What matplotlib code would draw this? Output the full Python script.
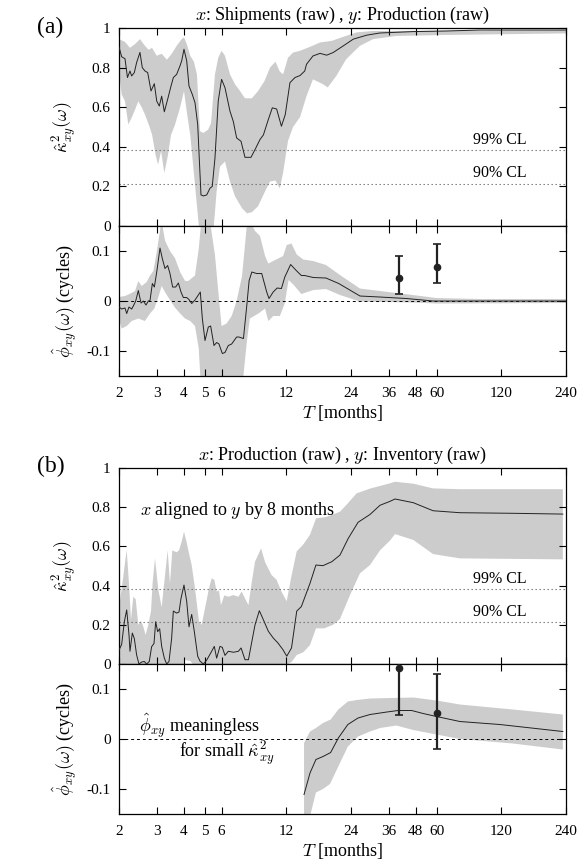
import numpy as np
import matplotlib.pyplot as plt

plt.rcParams['font.family'] = ['Liberation Serif', 'DejaVu Serif']
plt.rcParams['mathtext.fontset'] = 'cm'

# period T [months], value
# (a) x: Shipments, y: Production
coh_a_mid = [(2.000, 0.905), (2.058, 0.855), (2.133, 0.845), (2.19, 0.75), (2.25, 0.783), (2.29, 0.758),
             (2.357, 0.775), (2.416, 0.826), (2.504, 0.877), (2.567, 0.80), (2.642, 0.783), (2.72, 0.775),
             (2.818, 0.682), (2.92, 0.719), (2.996, 0.631), (3.08, 0.606), (3.159, 0.656), (3.25, 0.577),
             (3.368, 0.640), (3.491, 0.707), (3.58, 0.750), (3.709, 0.766), (3.844, 0.809), (3.914, 0.834),
             (4.012, 0.893), (4.130, 0.834), (4.233, 0.707), (4.385, 0.665), (4.514, 0.623), (4.646, 0.513),
             (4.813, 0.157), (4.937, 0.152), (5.118, 0.157), (5.300, 0.191), (5.43, 0.20), (5.591, 0.344),
             (5.79, 0.631), (6.0, 0.741), (6.222, 0.699), (6.565, 0.580), (6.80, 0.529), (7.05, 0.445),
             (7.39, 0.428), (7.71, 0.347), (8.22, 0.347), (8.585, 0.386), (9.056, 0.437), (9.39, 0.46),
             (9.90, 0.538), (10.33, 0.597), (10.82, 0.591), (11.39, 0.504), (11.87, 0.563), (12.48, 0.724),
             (13.17, 0.75), (13.90, 0.76), (14.62, 0.783), (14.9, 0.817), (15.97, 0.859), (17.22, 0.872),
             (18.5, 0.863), (19.8, 0.876), (22.1, 0.910), (24.6, 0.944), (28.4, 0.964), (32.7, 0.975),
             (46.6, 0.982), (66.5, 0.985), (95.6, 0.99), (240, 0.99)]
coh_a_hi = [(2.000, 0.944), (2.133, 0.93), (2.25, 0.90), (2.38, 0.92), (2.504, 0.944), (2.642, 0.91),
            (2.75, 0.89), (2.85, 0.90), (2.996, 0.86), (3.159, 0.87), (3.34, 0.84), (3.52, 0.87),
            (3.709, 0.91), (3.914, 0.944), (4.012, 0.953), (4.130, 0.92), (4.29, 0.86), (4.46, 0.83),
            (4.61, 0.766), (4.76, 0.479), (4.937, 0.47), (5.20, 0.487), (5.36, 0.52), (5.591, 0.766),
            (5.79, 0.85), (6.0, 0.885), (6.222, 0.86), (6.565, 0.766), (6.93, 0.716), (7.31, 0.682),
            (7.71, 0.645), (8.30, 0.645), (8.87, 0.682), (9.51, 0.733), (10.08, 0.80), (10.68, 0.83),
            (11.2, 0.78), (11.6, 0.766), (12.22, 0.85), (12.9, 0.876), (13.9, 0.885), (15.47, 0.905),
            (17.22, 0.927), (19.5, 0.935), (22.0, 0.955), (25.5, 0.978), (30.4, 0.985), (240, 0.99)]
coh_a_lo = [(2.000, 0.78), (2.058, 0.665), (2.133, 0.63), (2.21, 0.513), (2.29, 0.547), (2.38, 0.59),
            (2.46, 0.63), (2.55, 0.60), (2.642, 0.563), (2.75, 0.513), (2.85, 0.462), (2.96, 0.36),
            (3.04, 0.31), (3.14, 0.38), (3.25, 0.267), (3.368, 0.35), (3.491, 0.46), (3.64, 0.51),
            (3.844, 0.597), (4.012, 0.682), (4.130, 0.58), (4.29, 0.46), (4.514, 0.208), (4.70, 0.005),
            (4.88, -0.05), (5.20, -0.05), (5.5, -0.02), (5.591, 0.073), (5.69, 0.174), (5.9, 0.30),
            (6.222, 0.326), (6.565, 0.225), (6.93, 0.15), (7.47, 0.09), (7.88, 0.064), (8.30, 0.07),
            (8.87, 0.10), (9.51, 0.17), (10.08, 0.225), (10.68, 0.23), (11.2, 0.19), (11.6, 0.27),
            (12.22, 0.43), (12.9, 0.50), (13.9, 0.55), (14.9, 0.656), (15.97, 0.741), (17.8, 0.716),
            (18.7, 0.70), (20.5, 0.758), (22.8, 0.843), (26.4, 0.91), (30.4, 0.944), (39.0, 0.96),
            (66.5, 0.965), (240, 0.973)]

ph_a_mid = [(2.000, -0.012), (2.058, -0.016), (2.133, -0.014), (2.172, -0.025), (2.226, -0.012),
            (2.291, -0.016), (2.332, -0.010), (2.392, 0.0), (2.460, 0.021), (2.532, -0.004), (2.596, 0.0),
            (2.671, -0.008), (2.738, 0.0), (2.788, 0.001), (2.859, 0.035), (2.921, 0.028), (2.996, 0.058),
            (3.103, 0.106), (3.181, 0.085), (3.273, 0.065), (3.368, 0.071), (3.453, 0.055), (3.553, 0.028),
            (3.670, 0.028), (3.777, 0.036), (3.886, 0.018), (3.984, 0.007), (4.130, 0.007), (4.233, 0.003),
            (4.357, -0.005), (4.514, 0.002), (4.779, 0.018), (4.883, -0.035), (5.024, -0.079),
            (5.206, -0.052), (5.338, -0.050), (5.532, -0.089), (5.692, -0.083), (5.836, -0.086),
            (6.048, -0.105), (6.222, -0.103), (6.449, -0.089), (6.684, -0.086), (7.050, -0.072),
            (7.228, -0.072), (7.584, -0.075), (7.861, -0.009), (8.061, 0.041), (8.297, 0.058),
            (8.740, 0.055), (9.223, 0.055), (9.73, 0.018), (9.97, 0.005), (10.43, 0.018), (10.88, 0.026),
            (11.39, 0.025), (11.81, 0.048), (12.57, 0.073), (13.42, 0.060), (14.10, 0.051), (14.62, 0.051),
            (16.02, 0.047), (18.36, 0.046), (21.05, 0.035), (26.42, 0.010), (32.74, 0.008), (43.5, 0.005),
            (57.8, 0.0), (240, 0.0)]
ph_a_hi = [(2.000, 0.008), (2.133, 0.010), (2.24, 0.014), (2.375, 0.02), (2.460, 0.04), (2.55, 0.03),
           (2.69, 0.038), (2.788, 0.051), (2.89, 0.06), (2.996, 0.098), (3.103, 0.141), (3.16, 0.16),
           (3.273, 0.121), (3.453, 0.10), (3.64, 0.086), (3.85, 0.058), (4.06, 0.04), (4.20, 0.04),
           (4.514, 0.051), (4.70, 0.105), (4.83, 0.16), (5.30, 0.16), (5.59, 0.092), (5.79, 0.02),
           (6.0, -0.05), (6.33, -0.045), (6.684, -0.03), (7.05, 0.0), (7.47, 0.05), (7.861, 0.15),
           (8.12, 0.16), (8.59, 0.14), (9.06, 0.13), (9.56, 0.09), (9.90, 0.075), (10.43, 0.08),
           (11.0, 0.085), (11.6, 0.09), (12.05, 0.112), (12.69, 0.115), (13.42, 0.093), (14.4, 0.083),
           (16.02, 0.08), (18.36, 0.072), (21.33, 0.052), (26.42, 0.025), (32.74, 0.02), (46.6, 0.012),
           (60.0, 0.006), (95.6, 0.004), (240, 0.004)]
ph_a_lo = [(2.000, -0.035), (2.058, -0.055), (2.172, -0.05), (2.291, -0.04), (2.460, -0.035), (2.64, -0.04),
           (2.788, -0.025), (2.921, -0.015), (3.05, 0.008), (3.16, 0.03), (3.273, 0.018), (3.453, 0.002),
           (3.64, -0.013), (3.85, -0.025), (4.06, -0.035), (4.29, -0.04), (4.514, -0.05), (4.70, -0.095),
           (4.79, -0.16), (7.5, -0.16), (7.584, -0.149), (7.861, -0.082), (8.12, -0.035), (8.9, -0.025),
           (9.56, -0.015), (9.90, -0.04), (10.43, -0.03), (11.2, -0.03), (11.8, -0.005), (12.3, 0.042),
           (13.0, 0.032), (14.10, 0.014), (16.02, 0.022), (18.36, 0.024), (21.33, 0.012), (26.42, -0.001),
           (46.6, -0.003), (60, -0.005), (240, -0.004)]

# (b) x: Production, y: Inventory
coh_b_mid = [(2.000, 0.071), (2.058, 0.10), (2.118, 0.216), (2.172, 0.276), (2.226, 0.15), (2.250, 0.065),
             (2.307, 0.158), (2.357, 0.13), (2.416, 0.046), (2.477, 0.0), (2.549, 0.01), (2.622, 0.013),
             (2.688, 0.0), (2.767, 0.013), (2.836, 0.088), (2.910, 0.105), (2.963, 0.216), (3.026, 0.165),
             (3.092, 0.18), (3.159, 0.09), (3.250, 0.03), (3.332, 0.0), (3.417, 0.013), (3.515, 0.131),
             (3.579, 0.27), (3.709, 0.26), (3.803, 0.265), (3.886, 0.335), (4.012, 0.403), (4.130, 0.32),
             (4.233, 0.19), (4.357, 0.253), (4.482, 0.165), (4.646, 0.04), (4.762, 0.015), (4.937, 0.0),
             (5.118, 0.02), (5.396, 0.065), (5.551, 0.09), (5.692, 0.03), (5.898, 0.09), (6.048, 0.085),
             (6.222, 0.044), (6.449, 0.065), (6.817, 0.06), (7.187, 0.065), (7.396, 0.082), (7.710, 0.022),
             (8.000, 0.022), (8.585, 0.20), (8.99, 0.272), (9.387, 0.226), (9.90, 0.167), (10.43, 0.133),
             (10.98, 0.107), (11.58, 0.073), (12.06, 0.04), (12.69, 0.082), (13.42, 0.27), (14.10, 0.293),
             (15.47, 0.412), (16.48, 0.505), (17.78, 0.502), (19.54, 0.522), (21.33, 0.556), (23.30, 0.641),
             (25.88, 0.723), (29.41, 0.763), (32.74, 0.81), (36.44, 0.83), (38.44, 0.842), (46.8, 0.823),
             (57.8, 0.782), (77.1, 0.772), (136, 0.769), (232, 0.765)]
coh_b_hi = [(2.000, 0.284), (2.073, 0.41), (2.172, 0.582), (2.226, 0.41), (2.274, 0.226), (2.332, 0.343),
            (2.392, 0.33), (2.460, 0.20), (2.532, 0.22), (2.596, 0.19), (2.660, 0.148), (2.738, 0.20),
            (2.818, 0.27), (2.867, 0.413), (2.941, 0.539), (3.048, 0.38), (3.159, 0.29), (3.273, 0.45),
            (3.368, 0.58), (3.453, 0.41), (3.540, 0.58), (3.709, 0.57), (3.803, 0.58), (3.914, 0.624),
            (4.012, 0.675), (4.130, 0.62), (4.233, 0.564), (4.357, 0.505), (4.514, 0.386), (4.711, 0.216),
            (4.848, 0.20), (5.024, 0.284), (5.243, 0.386), (5.396, 0.437), (5.551, 0.43), (5.692, 0.37),
            (5.836, 0.375), (5.962, 0.30), (6.178, 0.35), (6.449, 0.343), (6.817, 0.352), (7.187, 0.343),
            (7.44, 0.37), (7.710, 0.335), (8.000, 0.30), (8.297, 0.42), (8.585, 0.522), (9.16, 0.59),
            (9.56, 0.52), (10.25, 0.454), (10.81, 0.43), (11.39, 0.37), (12.05, 0.32), (12.69, 0.45),
            (13.42, 0.575), (14.4, 0.61), (15.47, 0.66), (16.5, 0.743), (18.36, 0.75), (21.33, 0.777),
            (23.2, 0.82), (25.5, 0.871), (29.41, 0.895), (36.44, 0.922), (38.44, 0.93), (46.8, 0.92),
            (57.8, 0.896), (77.1, 0.892), (232, 0.892)]
coh_b_lo = [(2.000, 0.0), (4.0, 0.0), (4.06, 0.02), (4.3, 0.015), (4.4, 0.0), (12.2, 0.0), (12.69, 0.01),
            (13.42, 0.046), (14.4, 0.06), (15.47, 0.097), (16.5, 0.182), (18.0, 0.182), (19.79, 0.2),
            (21.33, 0.23), (23.74, 0.352), (26.42, 0.463), (29.41, 0.505), (32.74, 0.58), (36.44, 0.63),
            (38.44, 0.663), (46.8, 0.633), (57.8, 0.561), (77.1, 0.539), (232, 0.534)]

ph_b_mid = [(14.51, -0.111), (15.47, -0.068), (16.48, -0.041), (17.78, -0.035), (19.30, -0.027),
            (20.95, 0.002), (23.2, 0.029), (25.86, 0.042), (29.41, 0.049), (35.2, 0.054), (39.7, 0.057),
            (45.96, 0.057), (52.0, 0.051), (60.0, 0.045), (77.1, 0.035), (118.3, 0.029), (232, 0.015)]
ph_b_hi = [(14.51, -0.008), (15.47, 0.015), (16.48, 0.022), (17.78, 0.032), (19.30, 0.039), (20.95, 0.059),
           (23.2, 0.075), (25.5, 0.078), (29.41, 0.081), (36.44, 0.082), (46.8, 0.083), (60.0, 0.077),
           (77.1, 0.069), (136, 0.059), (232, 0.049)]
ph_b_lo = [(14.51, -0.17), (15.16, -0.17), (16.48, -0.107), (17.78, -0.10), (19.16, -0.09), (20.95, -0.055),
           (23.2, -0.015), (25.86, 0.005), (29.41, 0.015), (32.74, 0.022), (39.0, 0.027), (46.8, 0.018),
           (60.0, 0.009), (77.1, 0.0), (136, -0.009), (232, -0.021)]

# phase error bars (period, value, low, high)
err_T = [40, 60]
err_a_mid = [0.047, 0.069]
err_a_lo = [0.014, 0.037]
err_a_hi = [0.090, 0.115]
err_b_mid = [0.143, 0.052]
err_b_lo = [0.049, -0.019]
err_b_hi = [0.200, 0.130]

cl99, cl90 = 0.383, 0.214
period_ticks = [2, 3, 4, 5, 6, 12, 24, 36, 48, 60, 120, 240]
coh_ticks = [0, 0.2, 0.4, 0.6, 0.8, 1]
coh_labels = ['0', '0.2', '0.4', '0.6', '0.8', '1']
ph_ticks = [-0.1, 0, 0.1]
ph_labels = ['-0.1', '0', '0.1']


def xy(pairs):
    a = np.array(pairs, dtype=float)
    return a[:, 0], a[:, 1]


def band(ax, hi, lo, mid):
    th, yh = xy(hi)
    tl, yl = xy(lo)
    ax.fill(np.r_[th, tl[::-1]], np.r_[yh, yl[::-1]], color='#cccccc', lw=0, zorder=1)
    tm, ym = xy(mid)
    ax.plot(tm, ym, color='#222222', lw=0.7, zorder=3)


def style(ax, ylim, yticks, ylabels, bottom):
    ax.set_xscale('log')
    ax.set_xlim(2, 240)
    ax.set_ylim(*ylim)
    ax.set_xticks(period_ticks)
    ax.set_xticklabels([str(t) for t in period_ticks])
    ax.xaxis.set_minor_locator(plt.NullLocator())
    ax.set_yticks(yticks)
    ax.set_yticklabels(ylabels)
    ax.tick_params(direction='in', top=True, right=True, length=5, width=0.8,
                   labelsize=11, labelbottom=bottom)
    ax.tick_params(axis='x', pad=8)
    ax.tick_params(axis='y', pad=6)
    for s in ax.spines.values():
        s.set_linewidth(0.9)


def coherence_panel(ax, mid, hi, lo, title):
    band(ax, hi, lo, mid)
    for lev, txt in [(cl99, '99% CL'), (cl90, '90% CL')]:
        ax.axhline(lev, color='#707070', lw=0.8, ls=(0, (1.2, 2.4)), zorder=2)
        ax.text(0.913, lev + 0.012, txt, transform=ax.get_yaxis_transform(),
                ha='right', va='bottom', fontsize=11.5)
    style(ax, (0, 1), coh_ticks, coh_labels, False)
    ax.set_title(title, fontsize=13, pad=6)
    ax.set_ylabel(r'$\hat{\kappa}^2_{xy}(\omega)$', fontsize=13, va='center')
    ax.yaxis.set_label_coords(-0.121, 0.5)


def phase_panel(ax, mid, hi, lo, emid, elo, ehi):
    band(ax, hi, lo, mid)
    ax.axhline(0, color='k', lw=0.7, ls=(0, (3, 3)), zorder=2)
    emid, elo, ehi = np.array(emid), np.array(elo), np.array(ehi)
    ax.errorbar(err_T, emid, yerr=[emid - elo, ehi - emid], fmt='o', color='#222222',
                ms=4.5, elinewidth=1.6, capsize=3, capthick=1.2, zorder=4)
    style(ax, (-0.15, 0.15), ph_ticks, ph_labels, True)
    ax.set_ylabel(r'$\hat{\phi}_{xy}(\omega)$ (cycles)', fontsize=13, va='center')
    ax.yaxis.set_label_coords(-0.121, 0.5)
    ax.set_xlabel(r'$T$ [months]', fontsize=13, labelpad=2)


fig = plt.figure(figsize=(5.81, 8.68), dpi=100)
L, W = 0.2048, 0.7694
ax_a1 = fig.add_axes([L, 0.7396, W, 0.2281])
ax_a2 = fig.add_axes([L, 0.5668, W, 0.1728])
ax_b1 = fig.add_axes([L, 0.2350, W, 0.2258])
ax_b2 = fig.add_axes([L, 0.0622, W, 0.1728])

coherence_panel(ax_a1, coh_a_mid, coh_a_hi, coh_a_lo,
                r'$x$: Shipments (raw) , $y$: Production (raw)')
phase_panel(ax_a2, ph_a_mid, ph_a_hi, ph_a_lo, err_a_mid, err_a_lo, err_a_hi)

coherence_panel(ax_b1, coh_b_mid, coh_b_hi, coh_b_lo,
                r'$x$: Production (raw) , $y$: Inventory (raw)')
ax_b1.text(0.047, 0.76, r'$x$ aligned to $y$ by 8 months', transform=ax_b1.get_yaxis_transform(),
           ha='left', va='baseline', fontsize=13)
phase_panel(ax_b2, ph_b_mid, ph_b_hi, ph_b_lo, err_b_mid, err_b_lo, err_b_hi)
ax_b2.text(0.045, 0.015, r'$\hat{\phi}_{xy}$ meaningless', transform=ax_b2.get_yaxis_transform(),
           ha='left', va='baseline', fontsize=13)
ax_b2.text(0.134, -0.038, r'for small $\hat{\kappa}^2_{xy}$', transform=ax_b2.get_yaxis_transform(),
           ha='left', va='baseline', fontsize=13)

fig.text(50 / 581, 1 - 27 / 868, '(a)', fontsize=17, ha='center', va='center')
fig.text(51 / 581, 1 - 466 / 868, '(b)', fontsize=17, ha='center', va='center')

fig.savefig('out.png', dpi=100)
